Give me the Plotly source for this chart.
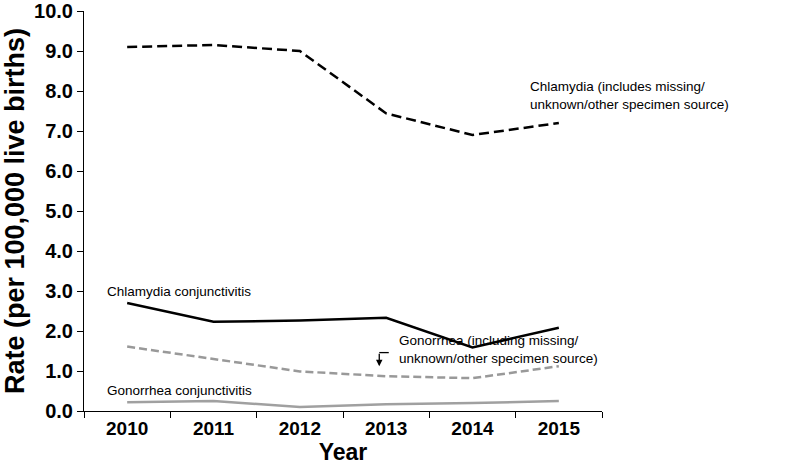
import plotly.graph_objects as go

years = ["2010", "2011", "2012", "2013", "2014", "2015"]
chlamydia_total = [9.1, 9.15, 9.0, 7.44, 6.9, 7.2]
chlamydia_conj = [2.70, 2.23, 2.26, 2.33, 1.59, 2.08]
gonorrhea_total = [1.61, 1.30, 0.99, 0.87, 0.82, 1.12]
gonorrhea_conj = [0.22, 0.25, 0.10, 0.17, 0.20, 0.25]
y_ticks = [0, 1, 2, 3, 4, 5, 6, 7, 8, 9, 10]

FONT = "Liberation Sans, Arial, sans-serif"

fig = go.Figure()
fig.add_trace(go.Scatter(x=years, y=chlamydia_total, mode="lines",
                         line=dict(color="black", width=2.5, dash="10px,5px"), showlegend=False))
fig.add_trace(go.Scatter(x=years, y=chlamydia_conj, mode="lines",
                         line=dict(color="black", width=2.5), showlegend=False))
fig.add_trace(go.Scatter(x=years, y=gonorrhea_total, mode="lines",
                         line=dict(color="#999999", width=2.5, dash="8px,4px"), showlegend=False))
fig.add_trace(go.Scatter(x=years, y=gonorrhea_conj, mode="lines",
                         line=dict(color="#a0a0a0", width=2.5), showlegend=False))

ann_font = dict(family=FONT, size=13.5, color="black")
fig.add_annotation(x=-0.257, y=2.98, xref="x", yref="y", text="Chlamydia conjunctivitis",
                   showarrow=False, xanchor="left", yanchor="middle", font=ann_font)
fig.add_annotation(x=-0.257, y=0.52, xref="x", yref="y", text="Gonorrhea conjunctivitis",
                   showarrow=False, xanchor="left", yanchor="middle", font=ann_font)
fig.add_annotation(x=4.64, y=7.89, xref="x", yref="y",
                   text="Chlamydia (includes missing/<br>unknown/other specimen source)",
                   showarrow=False, xanchor="left", yanchor="middle", align="left", font=ann_font)
fig.add_annotation(x=3.126, y=1.53, xref="x", yref="y",
                   text="Gonorrhea (including missing/<br>unknown/other specimen source)",
                   showarrow=False, xanchor="left", yanchor="middle", align="left", font=ann_font)
# elbow arrow
fig.add_annotation(x=2.92, y=1.12, xref="x", yref="y", text="", showarrow=True,
                   ax=0, ay=-14, arrowhead=2, arrowsize=1, arrowwidth=1.3, arrowcolor="black")
fig.add_shape(type="line", x0=2.92, x1=3.03, y0=1.46, y1=1.46, xref="x", yref="y",
              line=dict(color="black", width=1.3))

fig.update_layout(
    width=800, height=468,
    margin=dict(l=84, r=198, t=11, b=57),
    plot_bgcolor="white", paper_bgcolor="white",
    font=dict(family=FONT, color="black"),
    xaxis=dict(type="category", range=[-0.5, 5.5], showline=True, linecolor="black", linewidth=1,
               ticks="outside", tickson="boundaries", ticklen=6, tickcolor="black",
               showgrid=False, zeroline=False, automargin=False, ticklabeloverflow="allow",
               tickfont=dict(family=FONT, size=19, color="black", weight="bold"),
               title=dict(text="<b>Year</b>", font=dict(family=FONT, size=23, color="black"), standoff=2)),
    yaxis=dict(range=[0, 10], tickvals=y_ticks, tickformat=".1f", showline=True, linecolor="black",
               linewidth=1, ticks="outside", ticklen=6, tickcolor="black", showgrid=False,
               zeroline=False, automargin=False, ticklabeloverflow="allow",
               tickfont=dict(family=FONT, size=20, color="black", weight="bold"),
               title=dict(text="<b>Rate (per 100,000 live births)</b>",
                          font=dict(family=FONT, size=27, color="black"), standoff=4)),
)

fig.write_html("out.html", config={"displayModeBar": False},
               post_script="document.body.style.margin='0';document.body.style.padding='0';")
